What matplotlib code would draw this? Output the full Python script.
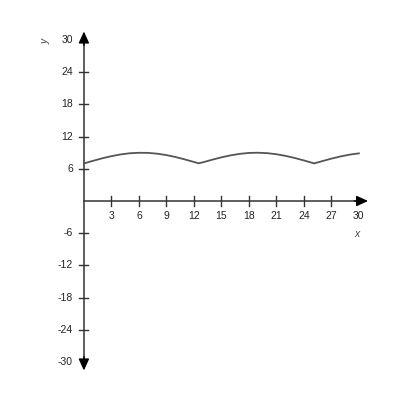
import matplotlib.pyplot as plt

plt.rcParams['font.family'] = ['Liberation Sans', 'DejaVu Sans']

# values
x_vals = [0, 1, 2, 3, 4, 5, 6, 7, 8, 9, 10, 11, 12, 12.5, 13, 14, 15, 16, 17, 18,
          19, 20, 21, 22, 23, 24, 25, 25.1, 26, 27, 28, 29, 30]
y_vals = [7.0, 7.49, 7.96, 8.36, 8.68, 8.9, 8.99, 8.97, 8.82, 8.56, 8.2, 7.76, 7.28,
          7.03, 7.22, 7.7, 8.14, 8.51, 8.79, 8.96, 9.0, 8.92, 8.72, 8.41, 8.02, 7.56,
          7.07, 7.0, 7.43, 7.9, 8.31, 8.65, 8.88]
x_ticks = [3, 6, 9, 12, 15, 18, 21, 24, 27, 30]
y_ticks = [-30, -24, -18, -12, -6, 6, 12, 18, 24, 30]

fig = plt.figure(figsize=(4, 4), dpi=100)
ax = fig.add_axes([0.141, 0.055, 0.825, 0.885])
ax.set_xlim(-3, 33)
ax.set_ylim(-33, 33)
ax.axis('off')

axc = '#333333'
ax.plot([0, 0], [-30, 30], color=axc, lw=1.1, zorder=2)
ax.plot([0, 30], [0, 0], color=axc, lw=1.1, zorder=2)
head = dict(arrowstyle='-|>,head_length=7,head_width=3.2', color='black', lw=1.0,
            mutation_scale=1, shrinkA=0, shrinkB=0)
ax.annotate('', xy=(0, 31.6), xytext=(0, 29.0), arrowprops=head, zorder=5)
ax.annotate('', xy=(0, -31.6), xytext=(0, -29.0), arrowprops=head, zorder=5)
ax.annotate('', xy=(31.0, 0), xytext=(29.5, 0), arrowprops=head, zorder=5)

for t in x_ticks:
    if t == x_ticks[-1]:
        continue
    ax.plot([t, t], [-0.9, 0.9], color=axc, lw=1, zorder=2)
for t in x_ticks:
    ax.text(t, -1.9, str(t), ha='center', va='top', fontsize=7.5, color='#222222')
for t in y_ticks:
    if abs(t) != 30:
        ax.plot([-0.5, 0.5], [t, t], color=axc, lw=1, zorder=2)
    ax.text(-1.2, t, str(t), ha='right', va='center', fontsize=7.5, color='#222222')

ax.text(29.8, -6.1, 'x', ha='center', va='center', fontsize=7.5, style='italic', color='#444444')
ax.text(-4.2, 29.8, 'y', ha='center', va='center', fontsize=7.5, style='italic', rotation=90, color='#444444')

ax.plot(x_vals, y_vals, color='#555555', lw=1.3, zorder=4)

plt.savefig('out.png', dpi=100)
